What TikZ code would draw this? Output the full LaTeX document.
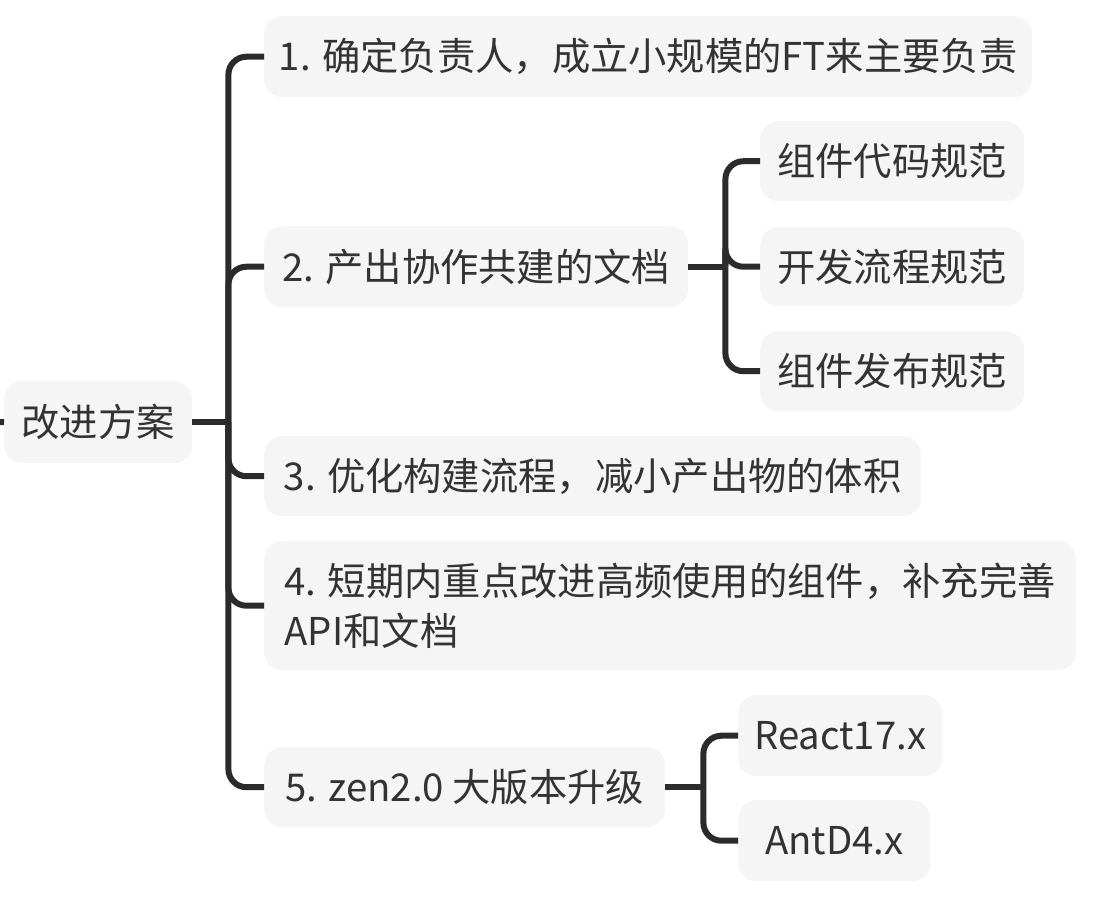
\documentclass[tikz,border=0pt]{standalone}
\usepackage{fontspec}
\setmainfont{Noto Sans CJK SC}
\definecolor{linec}{HTML}{2B2B2B}
\definecolor{boxc}{HTML}{F5F5F5}
\definecolor{txtc}{HTML}{333333}
\begin{document}
\begin{tikzpicture}[x=1pt,y=-1pt,
  topic/.style={fill=boxc, rounded corners=18pt, text=txtc,
    font=\fontsize{38.3}{50}\selectfont, inner sep=0pt,
    anchor=north west, align=center},
  conn/.style={draw=linec, line width=6pt, rounded corners=18pt},
]
\useasboundingbox (0,0) rectangle (1114,898);

\node[topic, minimum width=188pt, minimum height=82pt] (root) at (4,381) {改进方案};
\node[topic, minimum width=768pt, minimum height=81pt] (n1) at (264,16) {1. 确定负责人，成立小规模的FT来主要负责};
\node[topic, minimum width=424pt, minimum height=81pt] (n2) at (264,226) {2. 产出协作共建的文档};
\node[topic, minimum width=657pt, minimum height=80pt] (n3) at (264,436) {3. 优化构建流程，减小产出物的体积};
\node[topic, minimum width=812pt, minimum height=129pt, align=left] (n4) at (264,541) {4. 短期内重点改进高频使用的组件，补充完善\\API和文档};
\node[topic, minimum width=401pt, minimum height=80pt] (n5) at (264,747) {5. zen2.0 大版本升级};

\node[topic, minimum width=264pt, minimum height=80pt] (c1) at (760,121) {组件代码规范};
\node[topic, minimum width=264pt, minimum height=79pt] (c2) at (760,227) {开发流程规范};
\node[topic, minimum width=264pt, minimum height=80pt] (c3) at (760,331) {组件发布规范};

\node[topic, minimum width=204pt, minimum height=81pt] (r1) at (738,695) {React17.x};
\node[topic, minimum width=192pt, minimum height=81pt] (r2) at (738,800) {AntD4.x};

% connectors
\coordinate (stub) at (0,422);
\draw[conn] (stub) -- (root.west);
\coordinate (j0) at ([xshift=36pt]root.east);
\draw[conn] (root.east) -- (j0);
\foreach \n in {n1,n2,n3,n4,n5} \draw[conn] (j0) |- (\n.west);

\coordinate (j2) at ([xshift=37pt]n2.east);
\draw[conn] (n2.east) -- (j2);
\foreach \n in {c1,c2,c3} \draw[conn] (j2) |- (\n.west);

\coordinate (j5) at ([xshift=38pt]n5.east);
\draw[conn] (n5.east) -- (j5);
\foreach \n in {r1,r2} \draw[conn] (j5) |- (\n.west);
\end{tikzpicture}
\end{document}
